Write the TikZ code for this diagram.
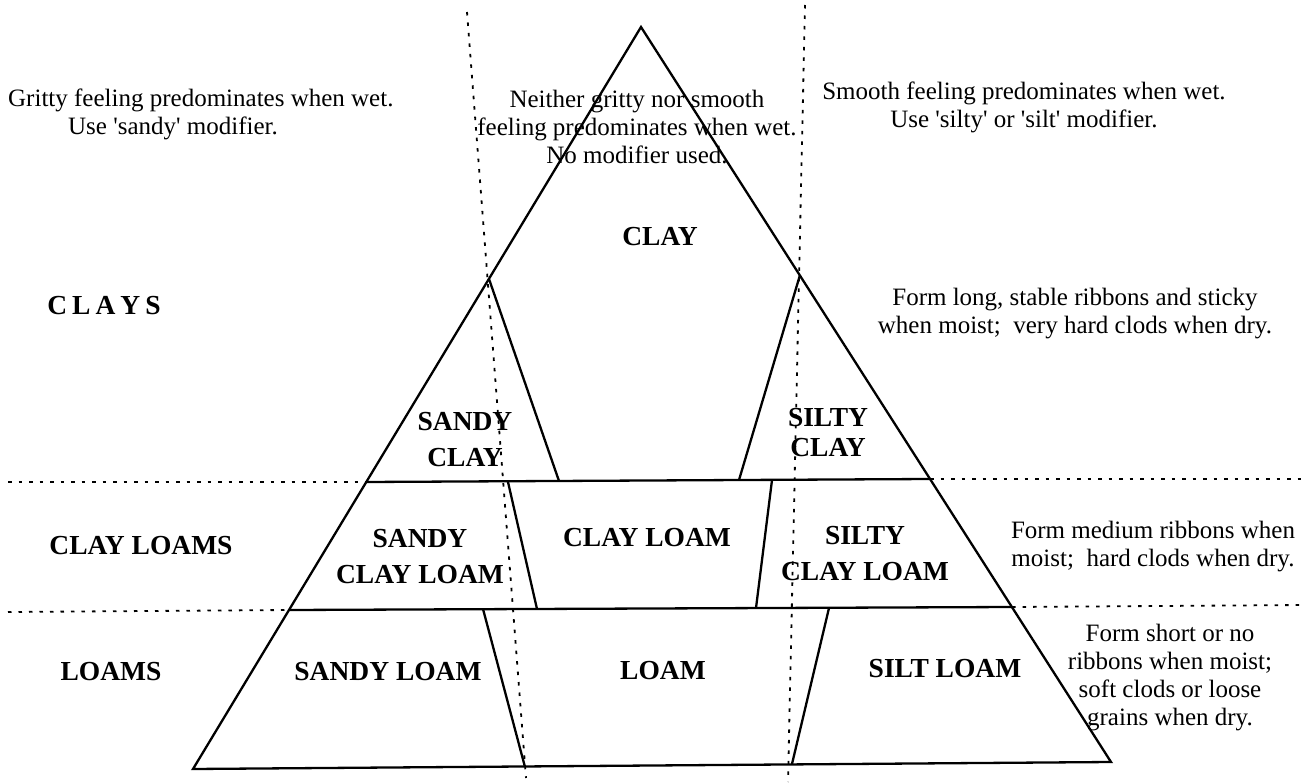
\documentclass[tikz,border=0pt]{standalone}
\usepackage{fontspec}
\setmainfont{Liberation Serif}
\usetikzlibrary{calc}

\begin{document}
\begin{tikzpicture}[x=1pt,y=-1pt,
  edge/.style={line width=2.3pt, line join=miter},
  guide/.style={line width=1.8pt, dash pattern=on 3.5pt off 7pt},
  note/.style={font=\fontsize{25}{28}\selectfont, align=center, inner sep=0pt},
  soil/.style={font=\fontsize{27.5}{36}\selectfont\bfseries, align=center, inner sep=0pt},
  group/.style={font=\fontsize{27.5}{33}\selectfont\bfseries, inner sep=0pt}]
\useasboundingbox (0,0) rectangle (1309,783);
% triangle corners and cut points
\coordinate (apex) at (641,27);
\coordinate (bl) at (193,769);
\coordinate (br) at (1111,762);
\coordinate (h1l) at (366,482);
\coordinate (h1r) at (930,479);
\coordinate (h2l) at (289,610);
\coordinate (h2r) at (1012,607);

\draw[edge] (apex) -- (bl) -- (br) -- cycle;
\draw[edge] (h1l) -- (h1r);
\draw[edge] (h2l) -- (h2r);
\draw[edge] (489,279) -- (559,481);
\draw[edge] (800,275) -- (739,480);
\draw[edge] (508,482) -- (537,609);
\draw[edge] (772,480) -- (756,608);
\draw[edge] (483,609) -- (525,767);
\draw[edge] (829,608) -- (792,764);

% sand / silt guides
\draw[guide] (467,12) -- (526,778);
\draw[guide] (805,5) -- (788,782);
\draw[guide] (8,482) -- (h1l);
\draw[guide] (h1r) -- (1305,479);
\draw[guide] (8,612) -- (h2l);
\draw[guide] (h2r) -- (1305,605);

\node[note, anchor=west, align=left] (wetsand) at (8,114)
  {Gritty feeling predominates when wet.\\\hspace*{60pt}Use \textquotesingle sandy\textquotesingle{} modifier.};
\node[note] (wetnone) at (637,127)
  {Neither gritty nor smooth\\feeling predominates when wet.\\No modifier used.};
\node[note] (wetsilt) at (1024,107)
  {Smooth feeling predominates when wet.\\Use \textquotesingle silty\textquotesingle{} or \textquotesingle silt\textquotesingle{} modifier.};

\node[group] (clays) at (104,306) {C\kern5pt L\kern5pt A\kern5pt Y\kern5pt S};
\node[group] (clayloams) at (141,546) {CLAY LOAMS};
\node[group] (loams) at (111,672) {LOAMS};

\node[soil] (clay) at (660,237) {CLAY};
\node[soil] (sandyclay) at (465,440) {SANDY\\CLAY};
\node[soil, font=\fontsize{27.5}{30}\selectfont\bfseries] (siltyclay) at (828,433) {SILTY\\CLAY};
\node[soil] (sandyclayloam) at (420,557) {SANDY\\CLAY LOAM};
\node[soil] (clayloam) at (647,538) {CLAY LOAM};
\node[soil] (siltyclayloam) at (865,554) {SILTY\\CLAY LOAM};
\node[soil] (sandyloam) at (388,672) {SANDY LOAM};
\node[soil] (loam) at (663,671) {LOAM};
\node[soil] (siltloam) at (945,669) {SILT LOAM};

\node[note] (ribbonlong) at (1075,314)
  {Form long, stable ribbons and sticky\\when moist;~ very hard clods when dry.};
\node[note] (ribbonmed) at (1153,547)
  {Form medium ribbons when\\moist;~ hard clods when dry.};
\node[note] (ribbonshort) at (1170,678)
  {Form short or no\\ribbons when moist;\\soft clods or loose\\grains when dry.};
\end{tikzpicture}
\end{document}
